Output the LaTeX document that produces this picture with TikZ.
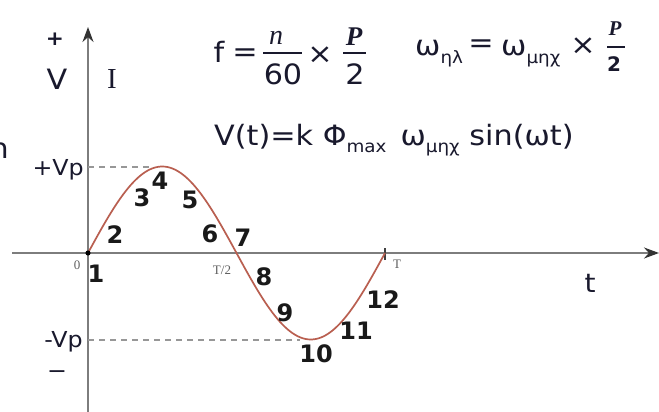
\documentclass[tikz,border=0pt]{standalone}
\usepackage{fontspec}
\setmainfont{DejaVu Sans}[FakeStretch=1.08]
\newfontfamily\numfont{DejaVu Sans}
\newfontfamily\seriffont{Liberation Serif}
\usetikzlibrary{arrows.meta}
\definecolor{ink}{RGB}{25,25,45}
\definecolor{axisgray}{RGB}{125,125,125}
\definecolor{curvecol}{RGB}{185,95,80}
\definecolor{lblgray}{RGB}{95,95,95}
\newcommand{\fs}[1]{\fontsize{#1}{#1}\selectfont}
\newcommand{\subtxt}[1]{\raisebox{-0.28em}{\fs{17}#1}}
\begin{document}
\begin{tikzpicture}[x=1pt,y=-1pt,
  txt/.style={text=ink, inner sep=0pt, font=\fs{22}},
  bigtxt/.style={text=ink, inner sep=0pt, font=\fs{28}},
  num/.style={text=black!90, inner sep=0pt, font=\numfont\bfseries\fs{24}},
  small/.style={text=lblgray, inner sep=0pt, font=\seriffont\fs{13}},
  axis/.style={draw=axisgray, line width=1.8pt},
  tip/.style={-{Stealth[length=15pt,width=11pt,color=black!80]}},
  guide/.style={draw=axisgray!80, line width=1.4pt, dash pattern=on 6pt off 5pt},
  curve/.style={draw=curvecol, line width=1.7pt},
  fbar/.style={draw=ink, line width=1.8pt}]
\useasboundingbox (0,0) rectangle (659,412);
\fill[white] (0,0) rectangle (659,412);

% axes
\coordinate (ybot) at (88,412);
\coordinate (ytop) at (88,27);
\coordinate (xleft) at (12,253);
\coordinate (xright) at (659,253);
\coordinate (orig) at (88,253);
\coordinate (Tpt) at (385,253);
\draw[axis, tip] (ybot) -- (ytop);
\draw[axis, tip] (xleft) -- (xright);

% guides
\coordinate (vpL) at (88,167);
\coordinate (vpR) at (152,167);
\coordinate (vmL) at (88,340);
\coordinate (vmR) at (300,340);
\draw[guide] (vpL) -- (vpR);
\draw[guide] (vmL) -- (vmR);

% T tick
\draw[draw=black!75, line width=1.5pt] ([yshift=-7pt]Tpt) -- ([yshift=5pt]Tpt);

% sine curve
\draw[curve] plot[domain=0:297, samples=120, smooth] ({88+\x},{253-86.5*sin(\x/297*360)});
\fill[black] (orig) circle (2.6pt);

% axis labels
\node[txt, font=\bfseries\fs{20}] (plus) at (55,39) {+};
\node[bigtxt] (vlab) at (57,79) {V};
\node[text=ink, inner sep=0pt, font=\seriffont\fs{29}] (ilab) at (112,79) {I};
\node[txt, anchor=base east] (vp) at (84,175) {+Vp};
\node[txt, anchor=base east] (vm) at (83,347) {-Vp};
\node[txt] (minus) at (57,375) {−};
\node[text=ink, inner sep=0pt, font=\fs{28}, anchor=east] (ncut) at (9,151) {n};
\node[text=ink, inner sep=0pt, font=\fs{26}] (tlab) at (590,283) {t};
\node[small] (zero) at (77,265) {0};
\node[small] (thalf) at (222,270) {T/2};
\node[small] (tfull) at (397,264) {T};

% numbers
\node[num] (n1) at (96,274) {1};
\node[num] (n2) at (115,235) {2};
\node[num] (n3) at (142,198) {3};
\node[num] (n4) at (160,181) {4};
\node[num] (n5) at (190,200) {5};
\node[num] (n6) at (210,234) {6};
\node[num] (n7) at (243,238) {7};
\node[num] (n8) at (264,277) {8};
\node[num] (n9) at (285,313) {9};
\node[num] (n10) at (316,354) {10};
\node[num] (n11) at (356,331) {11};
\node[num] (n12) at (383,300) {12};

% formula f = n/60 x P/2
\node[bigtxt] (ff) at (219,52) {f};
\node[bigtxt] (feq) at (245,55) {=};
\node[text=ink, inner sep=0pt, font=\seriffont\itshape\fs{28}] (fn) at (276,38) {n};
\node[bigtxt] (f60) at (283,74) {60};
\coordinate (b1l) at (263,53); \coordinate (b1r) at (302,53);
\draw[fbar] (b1l) -- (b1r);
\node[bigtxt] (ftimes) at (320,55) {×};
\node[text=ink, inner sep=0pt, font=\seriffont\bfseries\itshape\fs{27}] (fP) at (354,37) {P};
\coordinate (b2l) at (343,53); \coordinate (b2r) at (366,53);
\draw[fbar] (b2l) -- (b2r);
\node[bigtxt] (f2) at (355,74) {2};

% formula omega
\node[bigtxt, anchor=base west] (w1) at (415,56) {ω\subtxt{ηλ}};
\node[bigtxt] (weq) at (481,46) {=};
\node[bigtxt, anchor=base west] (w2) at (501,56) {ω\subtxt{μηχ}};
\node[bigtxt] (wtimes) at (583,46) {×};
\node[text=ink, inner sep=0pt, font=\seriffont\bfseries\itshape\fs{21}] (wP) at (615,29) {P};
\coordinate (b3l) at (607,47); \coordinate (b3r) at (625,47);
\draw[fbar] (b3l) -- (b3r);
\node[text=ink, inner sep=0pt, font=\numfont\bfseries\fs{20}] (w2n) at (614,64) {2};

% V(t) line
\node[bigtxt, anchor=base west] (vt) at (214,145) {V(t)=k Φ\subtxt{max}\hspace{0.5em}ω\subtxt{μηχ} sin(ωt)};
\end{tikzpicture}
\end{document}
